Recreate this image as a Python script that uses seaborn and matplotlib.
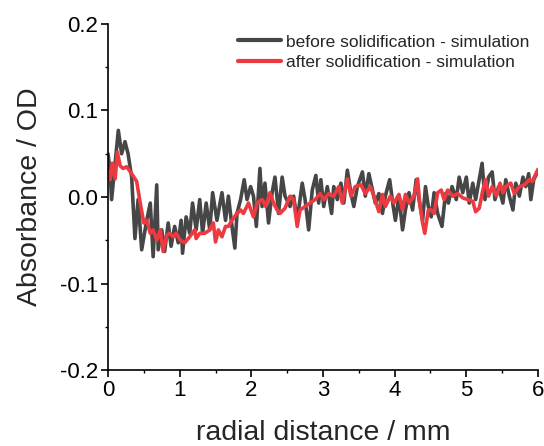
import numpy as np
import pandas as pd
import matplotlib
matplotlib.use("Agg")
import matplotlib.pyplot as plt
import seaborn as sns
from matplotlib.ticker import MultipleLocator

# ---- data ----
before_x = [0.00, 0.028, 0.05, 0.10, 0.144, 0.19, 0.237, 0.28, 0.33, 0.376, 0.42, 0.47, 0.54, 0.59, 0.63,
            0.68, 0.70, 0.75, 0.79, 0.84, 0.88, 0.93, 0.98, 1.02, 1.04, 1.09, 1.14, 1.18,
            1.23, 1.28, 1.32, 1.37, 1.42, 1.46, 1.52, 1.59, 1.64, 1.68, 1.73, 1.77, 1.80,
            1.85, 1.90, 1.94, 1.99, 2.03, 2.07, 2.12, 2.15, 2.19, 2.24, 2.29, 2.33, 2.38,
            2.43, 2.47, 2.54, 2.59, 2.64, 2.71, 2.75, 2.80, 2.85, 2.90, 2.94, 2.97, 3.01,
            3.06, 3.12, 3.15, 3.20, 3.25, 3.29, 3.34, 3.39, 3.43, 3.48, 3.55, 3.59, 3.64,
            3.69, 3.73, 3.78, 3.83, 3.87, 3.93, 3.98, 4.01, 4.06, 4.11, 4.15, 4.20, 4.25,
            4.30, 4.34, 4.39, 4.43, 4.47, 4.51, 4.55, 4.60, 4.66, 4.71, 4.75, 4.80, 4.86,
            4.90, 4.95, 5.00, 5.04, 5.09, 5.13, 5.18, 5.22, 5.26, 5.31, 5.36, 5.40, 5.45,
            5.51, 5.55, 5.60, 5.65, 5.69, 5.74, 5.79, 5.83, 5.87, 5.90, 5.94, 6.00]
before_y = [0.050, 0.031, -0.003, 0.040, 0.077, 0.050, 0.064, 0.050, 0.023, -0.048, -0.003, -0.061,
            -0.027, -0.007, -0.069, 0.014, -0.061, -0.038, -0.063, -0.030, -0.057, -0.034, -0.053,
            -0.027, -0.065, -0.023, -0.042, -0.007, -0.038, -0.003, -0.042, -0.007, -0.038, 0.005,
            -0.027, 0.005, -0.027, 0.001, -0.034, -0.059, -0.019, -0.003, 0.020, -0.003, 0.012,
            0.001, -0.034, 0.033, -0.011, 0.016, -0.030, 0.005, 0.023, -0.019, 0.023, 0.001,
            -0.011, 0.001, -0.027, 0.016, -0.003, -0.038, 0.008, 0.025, -0.007, 0.020, -0.011,
            0.012, -0.019, 0.012, -0.003, 0.016, -0.007, 0.031, 0.004, -0.011, 0.012, 0.029,
            0.001, 0.027, 0.008, -0.007, 0.004, -0.019, 0.001, 0.020, -0.011, -0.027, 0.001,
            -0.038, -0.015, 0.005, -0.015, 0.020, -0.003, -0.027, 0.012, -0.011, -0.023, 0.005,
            -0.019, -0.034, 0.004, -0.007, 0.012, -0.003, 0.023, 0.005, 0.023, -0.007, 0.016,
            -0.003, 0.020, 0.039, -0.003, 0.023, 0.029, -0.003, 0.012, -0.007, 0.020, 0.001,
            -0.015, 0.016, 0.001, 0.023, 0.012, 0.027, -0.003, 0.020, 0.030]

after_x = [0.00, 0.028, 0.06, 0.10, 0.13, 0.17, 0.21, 0.26, 0.33, 0.40, 0.45, 0.50, 0.54, 0.59, 0.63,
           0.68, 0.73, 0.77, 0.82, 0.86, 0.91, 0.95, 1.01, 1.07, 1.14, 1.21, 1.23, 1.28, 1.35,
           1.42, 1.47, 1.50, 1.54, 1.59, 1.64, 1.68, 1.73, 1.80, 1.85, 1.89, 1.96, 2.03, 2.08,
           2.15, 2.20, 2.26, 2.31, 2.36, 2.40, 2.47, 2.54, 2.59, 2.64, 2.68, 2.75, 2.82, 2.89,
           2.96, 3.01, 3.08, 3.15, 3.22, 3.27, 3.34, 3.39, 3.45, 3.53, 3.59, 3.66, 3.71, 3.78,
           3.83, 3.87, 3.94, 3.99, 4.06, 4.11, 4.15, 4.20, 4.27, 4.32, 4.35, 4.39, 4.42, 4.47,
           4.51, 4.55, 4.60, 4.65, 4.69, 4.74, 4.81, 4.88, 4.95, 5.02, 5.09, 5.13, 5.18, 5.23,
           5.27, 5.31, 5.36, 5.42, 5.47, 5.51, 5.55, 5.62, 5.67, 5.74, 5.81, 5.88, 5.92, 6.00]
after_y = [0.030, 0.020, 0.039, 0.021, 0.052, 0.036, 0.033, 0.035, 0.027, 0.018, -0.007, -0.030,
           -0.027, -0.042, -0.038, -0.050, -0.038, -0.063, -0.044, -0.042, -0.046, -0.042, -0.050,
           -0.053, -0.046, -0.038, -0.048, -0.042, -0.042, -0.038, -0.030, -0.052, -0.038, -0.046,
           -0.034, -0.034, -0.027, -0.019, -0.015, -0.019, -0.007, -0.023, -0.007, -0.003, -0.011,
           0.005, -0.007, -0.015, -0.019, -0.013, 0.001, -0.003, -0.034, -0.015, -0.011, -0.007,
           -0.003, 0.004, -0.003, 0.004, 0.001, 0.012, -0.007, 0.021, 0.001, 0.012, 0.014, 0.004,
           0.012, 0.001, -0.017, 0.003, -0.011, 0.001, -0.007, 0.003, -0.015, 0.003, -0.007, 0.001,
           0.021, -0.007, -0.030, -0.042, -0.015, -0.015, -0.019, 0.005, 0.008, -0.003, 0.008,
           0.001, 0.004, -0.001, -0.003, -0.005, -0.017, -0.013, 0.008, 0.020, 0.001, 0.012, 0.001,
           0.016, 0.005, 0.012, 0.016, 0.004, 0.012, 0.014, 0.020, 0.018, 0.032]

labels = ["before solidification - simulation", "after solidification - simulation"]

df = pd.concat([
    pd.DataFrame({"x": before_x, "y": before_y, "series": labels[0]}),
    pd.DataFrame({"x": after_x, "y": after_y, "series": labels[1]}),
], ignore_index=True)

sns.set_theme(style="ticks")
plt.rcParams["font.family"] = ["Liberation Sans", "DejaVu Sans"]

fig = plt.figure(figsize=(5.44, 4.46), dpi=100)
ax = fig.add_axes([108 / 544, 76 / 446, 430 / 544, 346 / 446])

sns.lineplot(data=df, x="x", y="y", hue="series", hue_order=labels,
             palette=["#464646", "#ec3a40"], sort=False, estimator=None,
             linewidth=2.6, ax=ax, legend=True)

ax.set_xlim(0, 6)
ax.set_ylim(-0.2, 0.2)
ax.xaxis.set_major_locator(MultipleLocator(1))
ax.xaxis.set_minor_locator(MultipleLocator(0.5))
ax.yaxis.set_major_locator(MultipleLocator(0.1))
ax.yaxis.set_minor_locator(MultipleLocator(0.05))
ax.xaxis.set_major_formatter(matplotlib.ticker.FormatStrFormatter("%d"))
ax.yaxis.set_major_formatter(matplotlib.ticker.FormatStrFormatter("%.1f"))

for s in ["top", "right"]:
    ax.spines[s].set_visible(False)
for s in ["left", "bottom"]:
    ax.spines[s].set_linewidth(1.2)
    ax.spines[s].set_color("black")

ax.tick_params(which="major", direction="out", length=5, width=1.2, labelsize=16,
               colors="black", pad=2)
ax.tick_params(which="minor", direction="out", length=2.5, width=1.0, colors="black")

ax.set_xlabel("radial distance / mm", fontsize=20.5, labelpad=14)
ax.set_ylabel("Absorbance / OD", fontsize=20.5, labelpad=12)

leg = ax.legend(loc="upper left", bbox_to_anchor=(0.302, 0.97), frameon=False,
                fontsize=12.5, handlelength=2.5, handletextpad=0.25, borderpad=0,
                labelspacing=0.32, borderaxespad=0)
for line in leg.get_lines():
    line.set_linewidth(3)

fig.savefig("out.png", dpi=100)
